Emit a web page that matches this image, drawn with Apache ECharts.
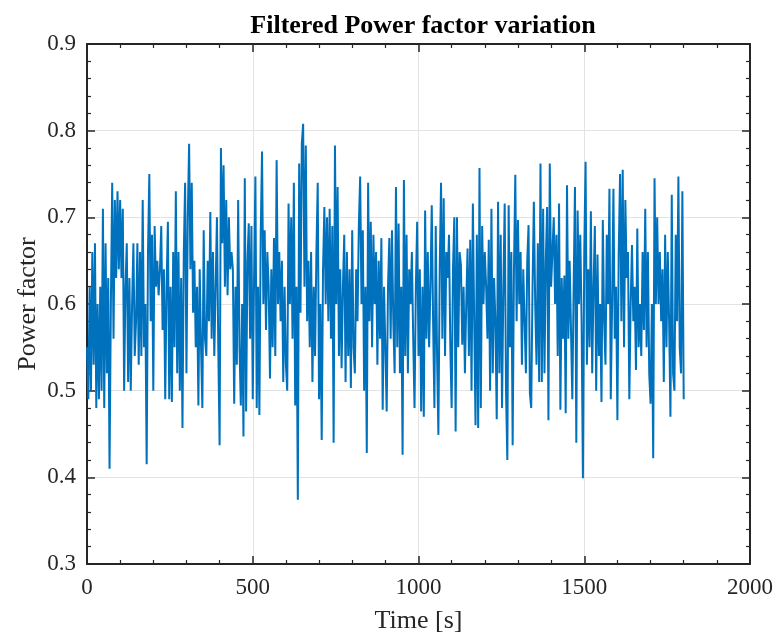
<!DOCTYPE html>
<html>
<head>
<meta charset="utf-8">
<script src="https://cdn.jsdelivr.net/npm/echarts@6/dist/echarts.min.js"></script>
<style>
  html, body { margin: 0; padding: 0; background: #ffffff; }
  #chart { width: 779px; height: 639px; }
</style>
</head>
<body>
<div id="chart"></div>
<script>
// ---- Data ----
const chartTitle = 'Filtered Power factor variation';
const xAxisName = 'Time [s]';
const yAxisName = 'Power factor';
const sampleStepSeconds = 4; // one reading every 4 s, starting at t = 0
const xTicks = [0, 500, 1000, 1500, 2000];
const yTicks = [0.3, 0.4, 0.5, 0.6, 0.7, 0.8, 0.9];

// 0 – 220 s
const pfSeg1 = [0.55,0.49,0.62,0.50,0.66,0.53,0.67,0.48,0.60,0.49,0.62,0.50,0.71,0.48,0.67,0.52,0.63,0.41,0.60,0.74,
  0.56,0.72,0.63,0.73,0.64,0.72,0.63,0.71,0.50,0.62,0.67,0.51,0.63,0.50,0.60,0.67,0.54,0.58,0.67,0.53,
  0.66,0.54,0.72,0.55,0.60,0.415,0.66,0.75,0.58,0.68,0.50,0.69,0.62,0.65,0.61,0.64];
// 224 – 444 s
const pfSeg2 = [0.69,0.57,0.64,0.49,0.62,0.695,0.49,0.62,0.487,0.66,0.55,0.73,0.52,0.66,0.50,0.63,0.457,0.66,0.74,0.52,
  0.70,0.785,0.64,0.74,0.59,0.65,0.55,0.62,0.483,0.64,0.55,0.48,0.685,0.56,0.54,0.65,0.58,0.706,0.56,0.66,
  0.54,0.62,0.70,0.55,0.437,0.78,0.67,0.76,0.62,0.72,0.61,0.70,0.64,0.66,0.64,0.485];
// 448 – 672 s
const pfSeg3 = [0.62,0.53,0.72,0.55,0.483,0.60,0.447,0.745,0.476,0.65,0.693,0.56,0.69,0.49,0.63,0.747,0.48,0.62,0.472,0.68,
  0.776,0.60,0.685,0.57,0.66,0.62,0.514,0.64,0.55,0.676,0.54,0.766,0.60,0.66,0.58,0.65,0.51,0.62,0.53,0.50,
  0.716,0.60,0.70,0.56,0.74,0.483,0.62,0.374,0.762,0.59,0.785,0.808,0.62,0.783,0.58,0.65,0.55];
// 676 – 900 s
const pfSeg4 = [0.66,0.51,0.62,0.54,0.66,0.74,0.49,0.60,0.443,0.64,0.712,0.60,0.70,0.58,0.71,0.56,0.69,0.44,0.783,0.60,
  0.735,0.54,0.64,0.526,0.62,0.68,0.51,0.66,0.54,0.64,0.503,0.685,0.55,0.52,0.64,0.58,0.69,0.747,0.60,0.685,
  0.50,0.62,0.428,0.74,0.58,0.695,0.55,0.68,0.60,0.66,0.53,0.65,0.56,0.676,0.478,0.62,0.55];
// 904 – 1124 s
const pfSeg5 = [0.476,0.62,0.676,0.56,0.685,0.58,0.52,0.735,0.55,0.693,0.52,0.62,0.426,0.743,0.54,0.68,0.52,0.64,0.60,0.66,
  0.56,0.48,0.62,0.695,0.54,0.64,0.476,0.62,0.47,0.708,0.56,0.66,0.55,0.62,0.714,0.58,0.48,0.69,0.54,0.449,
  0.64,0.74,0.56,0.722,0.54,0.66,0.63,0.68,0.55,0.48,0.64,0.70,0.453,0.70,0.55,0.66];
// 1128 – 1352 s
const pfSeg6 = [0.645,0.553,0.62,0.52,0.60,0.664,0.54,0.674,0.50,0.716,0.58,0.46,0.68,0.457,0.757,0.48,0.69,0.60,0.66,0.62,
  0.56,0.674,0.50,0.71,0.52,0.63,0.58,0.467,0.718,0.52,0.68,0.48,0.62,0.716,0.50,0.42,0.714,0.55,0.66,0.437,
  0.64,0.749,0.58,0.697,0.60,0.66,0.53,0.64,0.58,0.52,0.65,0.691,0.497,0.48,0.62,0.718,0.60];
// 1356 – 1580 s
const pfSeg7 = [0.53,0.67,0.51,0.762,0.51,0.71,0.52,0.65,0.712,0.466,0.762,0.62,0.66,0.70,0.60,0.68,0.54,0.716,0.478,0.63,
  0.56,0.633,0.474,0.737,0.56,0.65,0.57,0.49,0.62,0.735,0.44,0.708,0.60,0.68,0.58,0.399,0.66,0.764,0.53,0.64,
  0.55,0.707,0.52,0.62,0.69,0.50,0.657,0.54,0.60,0.487,0.697,0.58,0.53,0.68,0.60,0.733,0.49];
// 1584 – 1800 s
const pfSeg8 = [0.60,0.733,0.56,0.62,0.466,0.66,0.75,0.58,0.755,0.55,0.72,0.63,0.66,0.49,0.60,0.668,0.58,0.62,0.524,0.687,
  0.55,0.60,0.54,0.66,0.57,0.71,0.55,0.66,0.52,0.485,0.60,0.422,0.745,0.60,0.70,0.60,0.66,0.58,0.64,0.51,
  0.68,0.55,0.66,0.58,0.47,0.726,0.52,0.50,0.68,0.58,0.747,0.55,0.52,0.73,0.49];

const powerFactor = [].concat(pfSeg1, pfSeg2, pfSeg3, pfSeg4, pfSeg5, pfSeg6, pfSeg7, pfSeg8);
const seriesData = powerFactor.map((v, i) => [i * sampleStepSeconds, v]);

// ---- Chart ----
const FONT = '"Liberation Serif", "DejaVu Serif", serif';
const AX = '#262626';
const chart = echarts.init(document.getElementById('chart'), null, { renderer: 'canvas' });

function baseAxis(extra) {
  return Object.assign({
    type: 'value',
    axisLine: { show: true, onZero: false, lineStyle: { color: AX, width: 2 } },
    axisTick: { show: true, inside: true, length: 8, lineStyle: { color: AX, width: 1.5 } },
    minorTick: { show: true, splitNumber: 5, length: 4, lineStyle: { color: AX, width: 1.2 } },
    splitLine: { show: false },
    minorSplitLine: { show: false }
  }, extra);
}

chart.setOption({
  animation: false,
  backgroundColor: '#ffffff',
  textStyle: { fontFamily: FONT },
  title: {
    text: chartTitle,
    left: 418, textAlign: 'center', top: 8,
    textStyle: { fontFamily: FONT, fontWeight: 'bold', fontSize: 26, color: '#000000' }
  },
  grid: { left: 87, right: 29, top: 44, bottom: 75, containLabel: false },
  xAxis: [
    baseAxis({
      position: 'bottom', min: xTicks[0], max: xTicks[xTicks.length - 1], interval: 500,
      name: xAxisName, nameLocation: 'middle', nameGap: 44, nameMoveOverlap: false,
      nameTextStyle: { fontFamily: FONT, fontSize: 26, color: AX },
      axisLabel: { show: true, margin: 12, fontFamily: FONT, fontSize: 23, color: AX,
        formatter: v => String(v) },
      splitLine: { show: true, lineStyle: { color: '#e3e3e3', width: 1 } }
    }),
    baseAxis({
      position: 'top', min: xTicks[0], max: xTicks[xTicks.length - 1], interval: 500,
      axisLabel: { show: false }
    })
  ],
  yAxis: [
    baseAxis({
      position: 'left', min: yTicks[0], max: yTicks[yTicks.length - 1], interval: 0.1,
      name: yAxisName, nameLocation: 'middle', nameGap: 46, nameMoveOverlap: false,
      nameTextStyle: { fontFamily: FONT, fontSize: 26, color: AX },
      axisLabel: { show: true, margin: 11, fontFamily: FONT, fontSize: 23, color: AX,
        formatter: v => v.toFixed(1) },
      splitLine: { show: true, lineStyle: { color: '#e3e3e3', width: 1 } }
    }),
    baseAxis({
      position: 'right', min: yTicks[0], max: yTicks[yTicks.length - 1], interval: 0.1,
      axisLabel: { show: false }
    })
  ],
  series: [{
    type: 'line',
    xAxisIndex: 0, yAxisIndex: 0,
    data: seriesData,
    showSymbol: false,
    symbol: 'none',
    sampling: null,
    lineStyle: { color: '#0072BD', width: 2 },
    itemStyle: { color: '#0072BD' },
    clip: true
  }]
});
</script>
</body>
</html>
